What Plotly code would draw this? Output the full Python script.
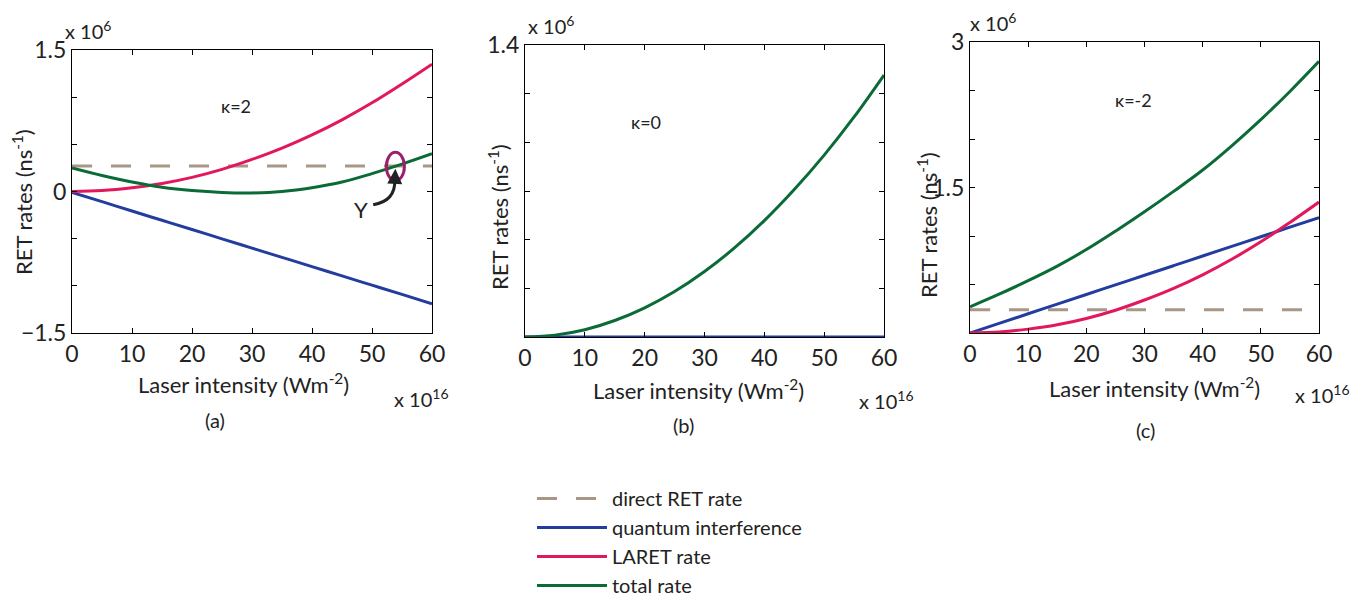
import plotly.graph_objects as go

# ---------------- data (rates in units of 10^6 ns^-1, intensity in 10^16 W m^-2)
intensity = [0, 5, 10, 15, 20, 25, 30, 35, 40, 45, 50, 55, 60]

# panel (a) kappa = 2
a_direct = [0.27] * 13
a_qi = [-0.01, -0.108, -0.207, -0.305, -0.403, -0.502, -0.600, -0.698, -0.796, -0.895, -0.993, -1.091, -1.19]
a_laret = [0.0, 0.01, 0.04, 0.085, 0.15, 0.235, 0.34, 0.46, 0.60, 0.76, 0.94, 1.14, 1.35]
a_total = [0.25, 0.17, 0.10, 0.045, 0.01, -0.01, -0.015, 0.0, 0.04, 0.10, 0.19, 0.29, 0.40]

# panel (b) kappa = 0
b_qi = [0.0] * 13
b_total = [0.0, 0.009, 0.035, 0.079, 0.14, 0.218, 0.314, 0.427, 0.558, 0.707, 0.872, 1.055, 1.256]

# panel (c) kappa = -2
c_direct = [0.24] * 13
c_qi = [0.0, 0.099, 0.198, 0.298, 0.397, 0.496, 0.595, 0.694, 0.794, 0.893, 0.992, 1.091, 1.19]
c_laret = [0.0, 0.01, 0.04, 0.085, 0.15, 0.235, 0.34, 0.46, 0.60, 0.76, 0.94, 1.14, 1.35]
c_total = [0.27, 0.40, 0.54, 0.69, 0.86, 1.05, 1.25, 1.46, 1.68, 1.93, 2.20, 2.49, 2.80]

series_names = ["direct RET rate", "quantum interference", "LARET rate", "total rate"]
panel_labels = ["(a)", "(b)", "(c)"]
kappa_labels = ["\u03ba=2", "\u03ba=0", "\u03ba=-2"]
kappa_pos = [(27.3, 0.91), (20.3, 1.03), (28.1, 2.40)]

a_yticks = [-1.5, -1.0, -0.5, 0, 0.5, 1.0, 1.5]
a_ytext = ["\u22121.5", "", "", "0", "", "", "1.5"]
b_yticks = [0, 0.2333, 0.4667, 0.7, 0.9333, 1.1667, 1.4]
b_ytext = ["", "", "", "", "", "", "1.4"]
c_yticks = [0, 0.5, 1.0, 1.5, 2.0, 2.5, 3.0]
c_ytext = ["", "", "", "1.5", "", "", "3"]
x_ticks = [0, 10, 20, 30, 40, 50, 60]

# ---------------- styles / layout positions (pixels)
FONT = "Lato"
TXT = "#222222"
C_DIRECT = "#a89686"
C_QI = "#233d9e"
C_LARET = "#e2185c"
C_TOTAL = "#0b6b36"
C_MARK = "#9c1f6e"
LW = 3
DASH = "20px,19px"

boxes = [(72, 432, 50, 333), (525, 884, 45, 337), (970, 1319, 42, 333)]
xtitle_pos = [(243, 383), (698, 389), (1154, 388)]
ytitle_pos = [(22, 202), (498, 217), (927, 225)]
xexp_pos = [(392, 398), (857, 400), (1293, 394)]
yexp_pos = [(63, 30), (526, 25), (968, 22)]
label_pos = [(215, 420), (683, 425), (1145, 430)]

fig = go.Figure()

def add(x, y, color, name, xa, ya, dash=None, show=False):
    fig.add_trace(go.Scatter(
        x=x, y=y, mode="lines", name=name, xaxis=xa, yaxis=ya,
        line=dict(color=color, width=LW, shape="spline", dash=dash),
        showlegend=show, hoverinfo="skip"))

# panel a
add(intensity, a_direct, C_DIRECT, series_names[0], "x", "y", dash=DASH)
add(intensity, a_qi, C_QI, series_names[1], "x", "y")
add(intensity, a_laret, C_LARET, series_names[2], "x", "y")
add(intensity, a_total, C_TOTAL, series_names[3], "x", "y")
# panel b
add(intensity, b_qi, C_QI, series_names[1], "x2", "y2")
add(intensity, b_total, C_TOTAL, series_names[3], "x2", "y2")
# panel c (carries the legend)
add(intensity, c_direct, C_DIRECT, series_names[0], "x3", "y3", dash=DASH, show=True)
add(intensity, c_qi, C_QI, series_names[1], "x3", "y3", show=True)
add(intensity, c_laret, C_LARET, series_names[2], "x3", "y3", show=True)
add(intensity, c_total, C_TOTAL, series_names[3], "x3", "y3", show=True)

W, H = 1364, 600
def px_x(p):
    return p / W
def px_y(p):
    return 1 - p / H

yticks = [(a_yticks, a_ytext, [-1.5, 1.5]), (b_yticks, b_ytext, [0, 1.4]), (c_yticks, c_ytext, [0, 3])]

axis_common = dict(showline=True, linecolor="black", linewidth=1, mirror="allticks",
                   ticks="inside", ticklen=5, tickcolor="black", showgrid=False,
                   zeroline=False, automargin=False,
                   tickfont=dict(family=FONT, size=23, color=TXT))

layout = dict(width=W, height=H,
              margin=dict(l=0, r=0, t=0, b=0, pad=0, autoexpand=False),
              paper_bgcolor="white", plot_bgcolor="white",
              font=dict(family=FONT, color=TXT))

def note(text, xy, size, angle=0, xanchor="center"):
    return dict(text=text, x=px_x(xy[0]), y=px_y(xy[1]), xref="paper", yref="paper",
                showarrow=False, textangle=angle, xanchor=xanchor, yanchor="middle",
                font=dict(family=FONT, size=size, color=TXT))

annotations = []
for i, (l, r, t, b) in enumerate(boxes):
    sx = "" if i == 0 else str(i + 1)
    layout["xaxis" + sx] = dict(domain=[px_x(l), px_x(r)], range=[0, 60],
                                tickvals=x_ticks, anchor="y" + sx, **axis_common)
    tv, tt, rg = yticks[i]
    layout["yaxis" + sx] = dict(domain=[px_y(b), px_y(t)], range=rg,
                                tickvals=tv, ticktext=tt,
                                anchor="x" + sx, **axis_common)
    annotations.append(note("Laser intensity (Wm<sup>-2</sup>)", xtitle_pos[i], 22))
    annotations.append(note("RET rates (ns<sup>-1</sup>)", ytitle_pos[i], 22, angle=-90))
    annotations.append(note("x 10<sup>16</sup>", xexp_pos[i], 20, xanchor="left"))
    annotations.append(note("x 10<sup>6</sup>", yexp_pos[i], 20, xanchor="left"))
    annotations.append(note(panel_labels[i], label_pos[i], 20))
    kx, ky = kappa_pos[i]
    annotations.append(dict(text=kappa_labels[i], x=kx, y=ky, xref="x" + sx, yref="y" + sx,
                            showarrow=False, xanchor="center", yanchor="middle",
                            font=dict(family=FONT, size=18, color=TXT)))

# "Y" marker in panel (a): label, curved pointer and arrowhead
annotations.append(dict(text="Y", x=48.2, y=-0.19, xref="x", yref="y", showarrow=False,
                        xanchor="center", yanchor="middle",
                        font=dict(family=FONT, size=22, color=TXT)))
annotations.append(dict(text="", x=53.9, y=0.24, xref="x", yref="y",
                        ax=53.8, ay=0.10, axref="x", ayref="y", showarrow=True,
                        arrowhead=2, arrowsize=1, arrowwidth=3, arrowcolor=TXT, standoff=0))
layout["annotations"] = annotations
layout["shapes"] = [
    dict(type="circle", xref="x", yref="y", x0=52.4, x1=55.4,
         y0=0.115, y1=0.415, line=dict(color=C_MARK, width=3)),
    dict(type="path", xref="x", yref="y",
         path="M 50.2,-0.14 Q 53.9,-0.10 53.8,0.12",
         line=dict(color=TXT, width=3)),
]

layout["legend"] = dict(x=px_x(532), y=px_y(479), xanchor="left", yanchor="top",
                        font=dict(family=FONT, size=20, color=TXT),
                        bgcolor="rgba(0,0,0,0)", tracegroupgap=0, itemwidth=70)

fig.update_layout(**layout)
fig.write_html("out.html")
